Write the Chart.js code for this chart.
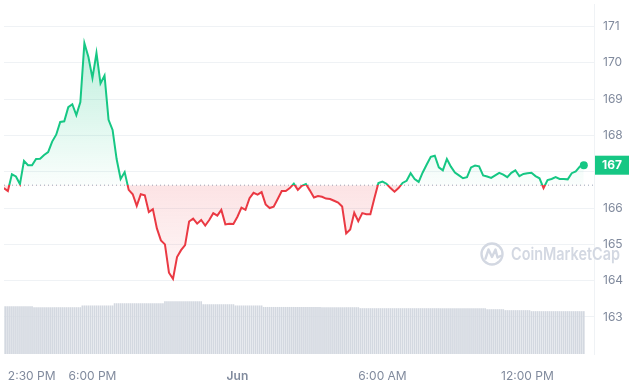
<!DOCTYPE html>
<html lang="en">
<head>
    <meta charset="UTF-8">
    <title>Price chart 24h</title>
    <script src="https://cdn.jsdelivr.net/npm/chart.js"></script>
    <style>
        body { margin: 0; background: #fff; }
        #priceChart { display: block; }
    </style>
</head>
<body>
    <canvas id="priceChart" width="630" height="380"></canvas>

    <script>
        // price every 10 minutes, starting 2:20 PM (hours since midnight of May 31)
        const startHour = 14 + 20 / 60;
        const prices = [
            166.55, 166.47, 166.93, 166.87, 166.66, 167.30, 167.18, 167.18, 167.35, 167.36,
            167.46, 167.54, 167.83, 168.02, 168.37, 168.39, 168.78, 168.86, 168.56, 168.92,
            170.54, 170.16, 169.58, 170.27, 169.43, 169.65, 168.43, 168.15, 167.35, 166.80,
            166.99, 166.50, 166.38, 166.06, 166.38, 166.35, 165.89, 165.97, 165.44, 165.11,
            165.00, 164.22, 164.05, 164.65, 164.84, 164.98, 165.63, 165.71, 165.57, 165.67,
            165.52, 165.67, 165.86, 165.79, 165.95, 165.55, 165.57, 165.56, 165.76, 166.01,
            165.95, 166.27, 166.42, 166.37, 166.44, 166.10, 166.00, 166.04, 166.25, 166.47,
            166.47, 166.55, 166.67, 166.50, 166.61, 166.66, 166.48, 166.29, 166.33, 166.31,
            166.26, 166.25, 166.20, 166.15, 166.04, 165.30, 165.41, 165.87, 165.64, 165.86,
            165.83, 165.83, 166.27, 166.69, 166.73, 166.67, 166.55, 166.45, 166.55, 166.69,
            166.75, 166.96, 166.80, 166.72, 166.98, 167.20, 167.41, 167.44, 167.12, 167.04,
            167.35, 167.14, 166.98, 166.90, 166.82, 166.85, 167.12, 167.17, 167.15, 166.90,
            166.87, 166.83, 166.90, 166.97, 166.92, 166.85, 166.97, 167.04, 166.88, 166.94,
            166.96, 166.97, 166.88, 166.82, 166.55, 166.77, 166.80, 166.85, 166.80, 166.80,
            166.79, 166.96, 167.01, 167.14, 167.18
        ];
        // 24h volume (billions), one bar every 5 minutes
        const volumes = [
            1.92, 1.92, 1.92, 1.92, 1.92, 1.92, 1.92, 1.92, 1.92, 1.92, 1.92, 1.92, 1.92, 1.92, 1.92,
            1.88, 1.88, 1.88, 1.88, 1.88, 1.88, 1.88, 1.88, 1.88, 1.88, 1.88, 1.88, 1.88, 1.88, 1.88, 1.88, 1.88, 1.88, 1.88, 1.88, 1.88, 1.88, 1.88, 1.88,
            1.95, 1.95, 1.95, 1.95, 1.95, 1.95, 1.95, 1.95, 1.95, 1.95, 1.95, 1.95, 1.95, 1.95, 1.95, 1.95,
            2.04, 2.04, 2.04, 2.04, 2.04, 2.04, 2.04, 2.04, 2.04, 2.04, 2.04, 2.04, 2.04, 2.04, 2.04, 2.04, 2.04, 2.04, 2.04, 2.04, 2.04, 2.04, 2.04, 2.04, 2.04,
            2.12, 2.12, 2.12, 2.12, 2.12, 2.12, 2.12, 2.12, 2.12, 2.12, 2.12, 2.12, 2.12, 2.12, 2.12, 2.12, 2.12, 2.12, 2.12,
            2.00, 2.00, 2.00, 2.00, 2.00, 2.00, 2.00, 2.00, 2.00, 2.00, 2.00, 2.00, 2.00, 2.00, 2.00, 2.00,
            1.95, 1.95, 1.95, 1.95, 1.95, 1.95, 1.95, 1.95, 1.95, 1.95, 1.95, 1.95, 1.95, 1.95,
            1.89, 1.89, 1.89, 1.89, 1.89, 1.89, 1.89, 1.89, 1.89, 1.89, 1.89, 1.89, 1.89, 1.89, 1.89, 1.89, 1.89, 1.89, 1.89, 1.89, 1.89, 1.89, 1.89, 1.89, 1.89, 1.89, 1.89, 1.89, 1.89,
            1.88, 1.88, 1.88, 1.88, 1.88, 1.88, 1.88, 1.88, 1.88, 1.88, 1.88, 1.88, 1.88, 1.88, 1.88, 1.88, 1.88, 1.88, 1.88,
            1.84, 1.84, 1.84, 1.84, 1.84, 1.84, 1.84, 1.84, 1.84, 1.84, 1.84, 1.84, 1.84, 1.84, 1.84, 1.84, 1.84, 1.84, 1.84, 1.84, 1.84,
            1.84, 1.84, 1.84, 1.84, 1.84, 1.84, 1.84, 1.84, 1.84, 1.84, 1.84, 1.84, 1.84, 1.84, 1.84, 1.84, 1.84, 1.84, 1.84, 1.84, 1.84,
            1.84, 1.84, 1.84, 1.84, 1.84, 1.84, 1.84, 1.84, 1.84, 1.84, 1.84, 1.84, 1.84, 1.84, 1.84, 1.84, 1.84, 1.84, 1.84, 1.84, 1.84,
            1.80, 1.80, 1.80, 1.80, 1.80, 1.80, 1.80, 1.80, 1.80,
            1.76, 1.76, 1.76, 1.76, 1.76, 1.76, 1.76, 1.76, 1.76, 1.76, 1.76, 1.76, 1.76,
            1.72, 1.72, 1.72, 1.72, 1.72, 1.72, 1.72, 1.72, 1.72, 1.72, 1.72, 1.72, 1.72, 1.72,
            1.72, 1.72, 1.72, 1.72, 1.72, 1.72, 1.72, 1.72, 1.72, 1.72, 1.72, 1.72, 1.72
        ];
        const openPrice = 166.63;
        const priceTicks = [163, 164, 165, 166, 167, 168, 169, 170, 171];
        const timeTicks = [14.5, 18, 24, 30, 36];
        const timeLabels = ['2:30 PM', '6:00 PM', 'Jun', '6:00 AM', '12:00 PM'];

        const GREEN = '#16c784';
        const RED = '#ea3943';
        const TEXT = '#808a9d';
        const xMin = 14.34, xMax = 38.755;
        const lastPrice = prices[prices.length - 1];

        const pricePoints = prices.map((p, i) => ({ x: startHour + i / 6, y: p }));
        const volumePoints = volumes.map((v, i) => ({ x: startHour + i / 12, y: v }));

        // watermark + current price tag
        const cmcMarks = {
            id: 'cmcMarks',
            beforeDatasetsDraw(chart) {
                const c = chart.ctx;
                c.save();
                c.strokeStyle = '#d3d8e2';
                c.lineWidth = 2.4;
                c.lineJoin = 'round';
                c.lineCap = 'round';
                c.beginPath();
                c.arc(492, 254, 10.5, 0, Math.PI * 2);
                c.stroke();
                c.beginPath();
                c.moveTo(485.5, 258.5);
                c.lineTo(488.5, 249.5);
                c.lineTo(492, 257);
                c.lineTo(495.5, 249.5);
                c.lineTo(497.5, 257.5);
                c.lineTo(500.5, 256);
                c.stroke();
                // squeeze the wordmark to its width in the original
                c.fillStyle = '#d3d8e2';
                c.font = '600 17px Inter';
                c.textBaseline = 'middle';
                const w = c.measureText('CoinMarketCap').width;
                c.translate(511, 255);
                c.scale(109 / w, 1);
                c.fillText('CoinMarketCap', 0, 0);
                c.restore();
            },
            afterDraw(chart) {
                const c = chart.ctx;
                const y = chart.scales.y.getPixelForValue(lastPrice);
                c.save();
                c.fillStyle = GREEN;
                c.fillRect(595, y - 9.5, 34, 19);
                c.fillStyle = '#fff';
                c.font = 'bold 12px Inter';
                c.textAlign = 'center';
                c.textBaseline = 'middle';
                c.fillText(Math.round(lastPrice).toString(), 612, y + 0.5);
                c.restore();
            }
        };

        const canvas = document.getElementById('priceChart');
        const chart = new Chart(canvas, {
            type: 'line',
            data: {
                datasets: [{
                    label: 'Price',
                    data: pricePoints,
                    yAxisID: 'y',
                    borderColor: GREEN,
                    borderWidth: 2,
                    tension: 0,
                    fill: { target: { value: openPrice }, above: 'rgba(22,199,132,0.15)', below: 'rgba(234,57,67,0.1)' },
                    pointRadius: ctx => ctx.dataIndex === prices.length - 1 ? 4 : 0,
                    pointBackgroundColor: GREEN,
                    pointBorderWidth: 0,
                    order: 0
                }, {
                    label: 'Open',
                    data: [{ x: xMin, y: openPrice }, { x: xMax, y: openPrice }],
                    yAxisID: 'y',
                    borderColor: '#9aa3b5',
                    borderWidth: 1,
                    borderDash: [1, 3],
                    pointRadius: 0,
                    fill: false,
                    order: 1
                }, {
                    type: 'bar',
                    label: 'Volume',
                    data: volumePoints,
                    yAxisID: 'yVol',
                    backgroundColor: '#d3d8e0',
                    barThickness: 1,
                    order: 2
                }]
            },
            options: {
                responsive: false,
                animation: false,
                events: [],
                layout: { padding: 0 },
                plugins: { legend: { display: false }, tooltip: { enabled: false } },
                scales: {
                    x: {
                        type: 'linear',
                        min: xMin,
                        max: xMax,
                        offset: false,
                        grid: { display: false },
                        border: { display: false },
                        ticks: {
                            align: 'inner',
                            padding: 7,
                            color: TEXT,
                            font: ctx => ({ family: 'Inter', size: 12, weight: ctx.tick && ctx.tick.value === 24 ? '600' : '400' }),
                            callback: v => {
                                const i = timeTicks.indexOf(v);
                                return i < 0 ? '' : timeLabels[i];
                            }
                        },
                        afterBuildTicks: s => { s.ticks = timeTicks.concat([xMax]).map(v => ({ value: v })); },
                        afterFit: s => { s.height = 26; s.paddingLeft = 0; s.paddingRight = 0; }
                    },
                    y: {
                        position: 'right',
                        min: 161.98,
                        max: 171.62,
                        grid: { color: '#eff2f5', drawTicks: false },
                        border: { display: true, color: '#eff2f5' },
                        ticks: {
                            padding: 9,
                            color: TEXT,
                            font: { family: 'Inter', size: 12 },
                            callback: v => Math.abs(v - lastPrice) < 0.5 ? '' : v
                        },
                        afterBuildTicks: s => { s.ticks = priceTicks.map(v => ({ value: v })); },
                        afterFit: s => { s.width = 36; s.paddingTop = 0; s.paddingBottom = 0; }
                    },
                    yVol: {
                        display: false,
                        min: 0,
                        max: 14.16
                    }
                }
            },
            plugins: [cmcMarks]
        });

        // green above the open price, red below: line and fill gradients
        const ys = chart.scales.y;
        const ctx2 = chart.ctx;
        const area = chart.chartArea;
        const baseY = ys.getPixelForValue(openPrice);
        const split = (baseY - area.top) / (area.bottom - area.top);
        const lineGrad = ctx2.createLinearGradient(0, area.top, 0, area.bottom);
        lineGrad.addColorStop(0, GREEN);
        lineGrad.addColorStop(split, GREEN);
        lineGrad.addColorStop(split, RED);
        lineGrad.addColorStop(1, RED);

        const upGrad = ctx2.createLinearGradient(0, ys.getPixelForValue(Math.max(...prices)), 0, baseY);
        upGrad.addColorStop(0, 'rgba(22,199,132,0.28)');
        upGrad.addColorStop(1, 'rgba(22,199,132,0.02)');
        const downGrad = ctx2.createLinearGradient(0, baseY, 0, ys.getPixelForValue(Math.min(...prices)));
        downGrad.addColorStop(0, 'rgba(234,57,67,0.14)');
        downGrad.addColorStop(1, 'rgba(234,57,67,0.04)');

        const ds = chart.data.datasets[0];
        ds.borderColor = lineGrad;
        ds.fill = { target: { value: openPrice }, above: upGrad, below: downGrad };
        chart.update('none');
    </script>
</body>
</html>
